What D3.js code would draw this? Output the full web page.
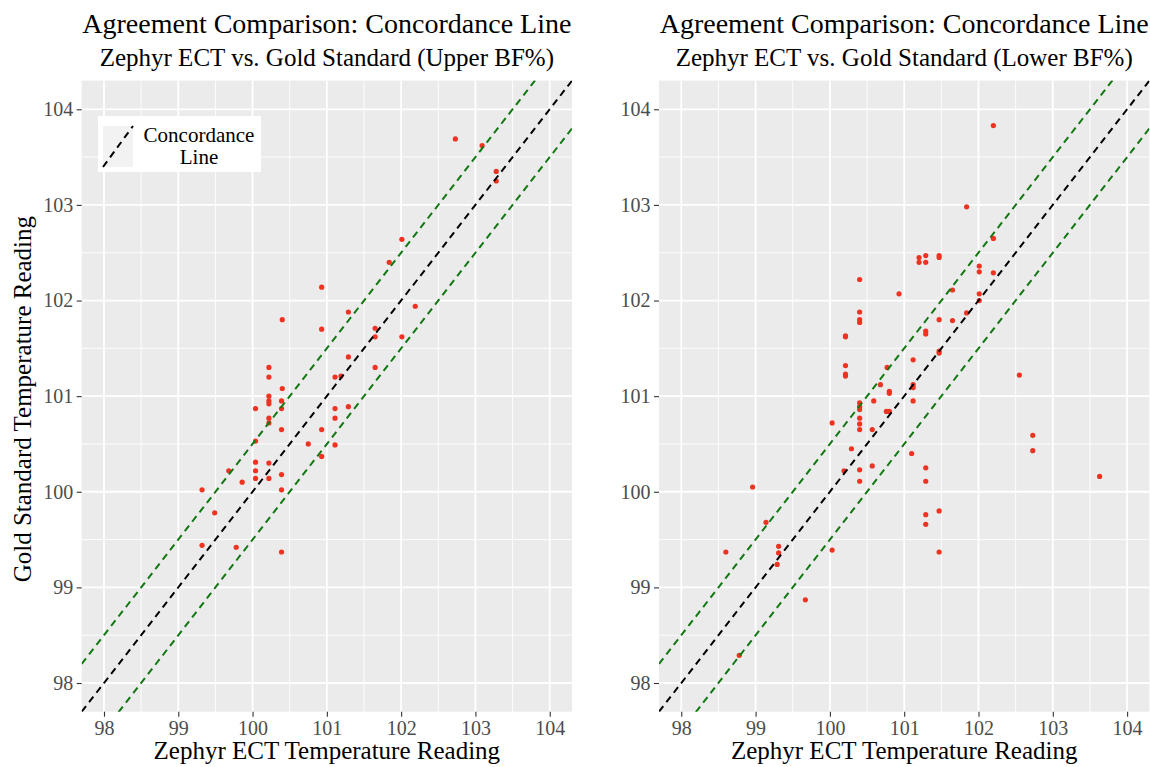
<!DOCTYPE html>
<html lang="en">
<head>
<meta charset="UTF-8">
<title>Agreement Comparison: Concordance Line</title>
<script src="https://d3js.org/d3.v7.min.js"></script>
<style>
    body { margin: 0; background: #fff; }
    svg { display: block; font-family: "Liberation Serif", "Times New Roman", serif; }
    .axis text { font-family: "Liberation Serif", "Times New Roman", serif; font-size: 20px; fill: #4D4D4D; }
</style>
</head>
<body>
<svg id="canvas" width="1150" height="767"></svg>
<script>
// axis ticks shared by both panels
const ticks = [98, 99, 100, 101, 102, 103, 104];
const minorTicks = [98.5, 99.5, 100.5, 101.5, 102.5, 103.5];
const limits = [97.7, 104.3];

// Upper BF% group
const upperEct = [102.73, 103.09, 103.28, 103.28, 102.01, 101.84, 100.93, 101.29, 100.40, 100.93,
    102.19, 101.65, 101.65, 102.01, 101.29, 101.65, 101.11, 101.19, 100.40, 100.22,
    100.22, 100.22, 100.22, 100.22, 100.39, 100.04, 100.39, 101.11, 101.29, 101.11,
    100.22, 100.22, 100.39, 100.93, 100.04, 100.75, 101.11, 100.93, 99.68, 100.04,
    100.04, 100.22, 100.39, 99.86, 100.04, 100.22, 99.32, 100.39, 99.49, 99.32,
    99.78, 100.39];
const upperGold = [103.69, 103.62, 103.35, 103.25, 102.64, 102.40, 102.14, 101.88, 101.80, 101.70,
    101.94, 101.71, 101.62, 101.62, 101.41, 101.30, 101.20, 101.21, 101.08, 101.30,
    101.20, 101.00, 100.95, 100.92, 100.95, 100.87, 100.87, 100.87, 100.89, 100.77,
    100.77, 100.72, 100.65, 100.65, 100.53, 100.50, 100.49, 100.37, 100.22, 100.31,
    100.22, 100.30, 100.18, 100.10, 100.14, 100.14, 100.02, 100.02, 99.78, 99.44,
    99.42, 99.37];

// Lower BF% group
const lowerEct = [101.84, 101.47, 101.47, 101.20, 101.20, 101.29, 101.29, 100.40, 100.93, 101.65,
    101.84, 100.40, 100.40, 100.40, 101.47, 101.65, 101.29, 101.29, 100.21, 100.21,
    101.47, 101.47, 100.21, 100.21, 100.21, 100.77, 101.12, 100.68, 101.12, 101.12,
    100.80, 100.80, 100.59, 101.12, 100.40, 100.40, 100.40, 100.76, 100.80, 100.40,
    100.03, 100.40, 100.40, 100.57, 100.29, 101.10, 100.19, 100.40, 100.57, 100.40,
    101.29, 101.29, 98.96, 99.14, 101.47, 101.29, 101.29, 98.60, 99.31, 99.31,
    99.29, 100.03, 101.47, 99.67, 98.78, 102.20, 102.20, 102.01, 102.01, 102.20,
    102.01, 102.01, 102.55, 102.73, 102.73, 103.63];
const lowerGold = [102.98, 102.47, 102.45, 102.45, 102.40, 102.47, 102.40, 102.22, 102.07, 102.11,
    101.87, 101.88, 101.80, 101.77, 101.80, 101.79, 101.68, 101.65, 101.63, 101.62,
    101.47, 101.45, 101.32, 101.23, 101.21, 101.30, 101.38, 101.12, 101.12, 101.09,
    101.05, 101.03, 100.95, 100.95, 100.93, 100.89, 100.86, 100.84, 100.84, 100.77,
    100.72, 100.71, 100.65, 100.65, 100.45, 100.40, 100.22, 100.23, 100.27, 100.11,
    100.25, 100.11, 100.05, 99.68, 99.80, 99.76, 99.66, 99.37, 99.43, 99.36,
    99.24, 99.39, 99.37, 98.87, 98.29, 103.83, 102.65, 102.36, 102.30, 102.29,
    102.07, 102.00, 101.22, 100.59, 100.43, 100.16];

const bandOffsets = [0.5, -0.5];

const svg = d3.select('#canvas');
svg.append('rect').attr('width', 1150).attr('height', 767).attr('fill', '#fff');

function drawPanel(id, left, right, ect, gold, subtitle, showYTitle, showLegend) {
    const top = 80.6, bottom = 711.7;
    const x = d3.scaleLinear().domain(limits).range([left, right]);
    const y = d3.scaleLinear().domain(limits).range([bottom, top]);
    const g = svg.append('g');

    g.append('clipPath').attr('id', 'clip' + id)
        .append('rect').attr('x', left).attr('y', top)
        .attr('width', right - left).attr('height', bottom - top);

    g.append('rect')
        .attr('x', left).attr('y', top)
        .attr('width', right - left).attr('height', bottom - top)
        .attr('fill', '#EBEBEB');

    // grid
    g.selectAll('.vminor').data(minorTicks).enter().append('line')
        .attr('x1', d => x(d)).attr('x2', d => x(d)).attr('y1', top).attr('y2', bottom)
        .attr('stroke', '#fff').attr('stroke-width', 0.9);
    g.selectAll('.hminor').data(minorTicks).enter().append('line')
        .attr('y1', d => y(d)).attr('y2', d => y(d)).attr('x1', left).attr('x2', right)
        .attr('stroke', '#fff').attr('stroke-width', 0.9);
    g.selectAll('.vmajor').data(ticks).enter().append('line')
        .attr('x1', d => x(d)).attr('x2', d => x(d)).attr('y1', top).attr('y2', bottom)
        .attr('stroke', '#fff').attr('stroke-width', 1.8);
    g.selectAll('.hmajor').data(ticks).enter().append('line')
        .attr('y1', d => y(d)).attr('y2', d => y(d)).attr('x1', left).attr('x2', right)
        .attr('stroke', '#fff').attr('stroke-width', 1.8);

    // points
    const plot = g.append('g').attr('clip-path', 'url(#clip' + id + ')');
    plot.selectAll('circle').data(d3.range(ect.length)).enter().append('circle')
        .attr('cx', i => x(ect[i])).attr('cy', i => y(gold[i]))
        .attr('r', 2.6).attr('fill', '#EE3322');

    // +/- 0.5 band and concordance line
    plot.selectAll('.band').data(bandOffsets).enter().append('line')
        .attr('x1', x(limits[0])).attr('y1', d => y(limits[0] + d))
        .attr('x2', x(limits[1])).attr('y2', d => y(limits[1] + d))
        .attr('stroke', '#117711').attr('stroke-width', 2).attr('stroke-dasharray', '7,5');
    plot.append('line')
        .attr('x1', x(limits[0])).attr('y1', y(limits[0]))
        .attr('x2', x(limits[1])).attr('y2', y(limits[1]))
        .attr('stroke', '#000').attr('stroke-width', 2).attr('stroke-dasharray', '7,5');

    // axes
    const xAxis = g.append('g').attr('class', 'axis').attr('transform', `translate(0,${bottom})`)
        .call(d3.axisBottom(x).tickValues(ticks).tickSize(5).tickPadding(4).tickFormat(d3.format('d')));
    const yAxis = g.append('g').attr('class', 'axis').attr('transform', `translate(${left},0)`)
        .call(d3.axisLeft(y).tickValues(ticks).tickSize(5).tickPadding(3.5).tickFormat(d3.format('d')));
    [xAxis, yAxis].forEach(a => {
        a.attr('font-family', null).attr('font-size', null);
        a.select('.domain').remove();
        a.selectAll('line').attr('stroke', '#333').attr('stroke-width', 1.1);
        a.selectAll('text').attr('fill', '#4D4D4D');
    });

    const cx = (left + right) / 2;
    g.append('text').attr('x', cx).attr('y', 33).attr('text-anchor', 'middle')
        .style('font-size', '28px').attr('fill', '#000')
        .text('Agreement Comparison: Concordance Line');
    g.append('text').attr('x', cx).attr('y', 66).attr('text-anchor', 'middle')
        .style('font-size', '25px').attr('fill', '#000')
        .text(subtitle);
    g.append('text').attr('x', cx).attr('y', 759).attr('text-anchor', 'middle')
        .style('font-size', '25px').attr('fill', '#000')
        .text('Zephyr ECT Temperature Reading');

    if (showYTitle) {
        g.append('text')
            .attr('transform', `translate(31,${(top + bottom) / 2 + 3}) rotate(-90)`)
            .attr('text-anchor', 'middle')
            .style('font-size', '25px').attr('fill', '#000')
            .text('Gold Standard Temperature Reading');
    }

    if (showLegend) {
        const lg = g.append('g');
        lg.append('rect').attr('x', 98).attr('y', 116).attr('width', 163).attr('height', 56).attr('fill', '#fff');
        lg.append('rect').attr('x', 103).attr('y', 126).attr('width', 30).attr('height', 41).attr('fill', '#F2F2F2');
        lg.append('line').attr('x1', 103).attr('y1', 167).attr('x2', 133).attr('y2', 126)
            .attr('stroke', '#000').attr('stroke-width', 2).attr('stroke-dasharray', '7,5');
        lg.append('text').attr('x', 199).attr('y', 142).attr('text-anchor', 'middle')
            .style('font-size', '21px').text('Concordance');
        lg.append('text').attr('x', 199).attr('y', 164).attr('text-anchor', 'middle')
            .style('font-size', '21px').text('Line');
    }
}

drawPanel('L', 81.7, 572, upperEct, upperGold, 'Zephyr ECT vs. Gold Standard (Upper BF%)', true, true);
drawPanel('R', 659, 1149.4, lowerEct, lowerGold, 'Zephyr ECT vs. Gold Standard (Lower BF%)', false, false);
</script>
</body>
</html>
